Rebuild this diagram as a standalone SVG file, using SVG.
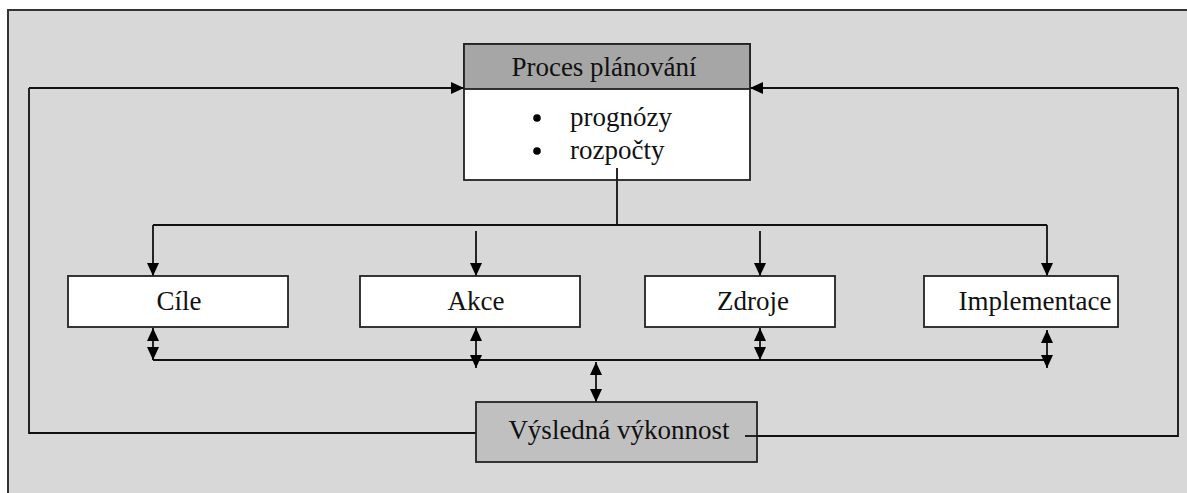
<svg xmlns="http://www.w3.org/2000/svg" width="1187" height="493" viewBox="0 0 1187 493">
  <defs>
    <marker id="ah" viewBox="0 0 13 12" refX="13" refY="6" markerWidth="13" markerHeight="12" markerUnits="userSpaceOnUse" orient="auto-start-reverse">
      <path d="M0,0 L13,6 L0,12 Z" fill="#000"/>
    </marker>
    <style>
      .frame { fill: #d8d8d8; stroke: #333; stroke-width: 2; }
      .box { fill: #fff; stroke: #222; stroke-width: 1.8; }
      .head { fill: #a6a6a6; stroke: #222; stroke-width: 1.8; }
      .result { fill: #c0c0c0; stroke: #222; stroke-width: 1.8; }
      .lbl { font-family: "Liberation Serif", "Times New Roman", serif; font-size: 27px; fill: #111; text-anchor: middle; }
      .item { font-family: "Liberation Serif", "Times New Roman", serif; font-size: 27px; fill: #111; }
      .ln { fill: none; stroke: #111; stroke-width: 1.8; }
      .arr { fill: none; stroke: #111; stroke-width: 1.8; marker-end: url(#ah); }
      .dbl { fill: none; stroke: #111; stroke-width: 1.8; marker-start: url(#ah); marker-end: url(#ah); }
    </style>
  </defs>

  <rect width="1187" height="493" fill="#fff"/>
  <!-- outer panel -->
  <rect class="frame" x="8" y="10" width="1190" height="500"/>

  <!-- connectors -->
  <g id="connectors">
    <!-- feedback loop around the diagram -->
    <path class="ln" d="M476,433 H29 V88"/>
    <path class="arr" d="M29,88 H464"/>
    <path class="ln" d="M745,436 H1178 V88"/>
    <path class="arr" d="M1178,88 H750"/>
    <!-- distribution bus from planning -->
    <path class="ln" d="M617,168 V225"/>
    <path class="ln" d="M153,225 H1047"/>
    <path class="arr" d="M153,225 V276"/>
    <path class="arr" d="M476,231 V276"/>
    <path class="arr" d="M760,231 V276"/>
    <path class="arr" d="M1047,225 V276"/>
    <!-- collection bus into performance -->
    <path class="ln" d="M153,360 H1047"/>
    <path class="dbl" d="M153,328 V360"/>
    <path class="dbl" d="M476,328 V368"/>
    <path class="dbl" d="M760,328 V360"/>
    <path class="dbl" d="M1047,330 V368"/>
    <path class="dbl" d="M596,362 V402"/>
  </g>

  <g id="planning">
    <rect class="box" x="464" y="44" width="286" height="136"/>
    <rect class="head" x="464" y="44" width="286" height="45"/>
    <text class="lbl" x="604" y="76">Proces plánování</text>
    <circle cx="537" cy="118" r="3.8" fill="#000"/>
    <circle cx="537" cy="151" r="3.8" fill="#000"/>
    <text class="item" x="570" y="126">prognózy</text>
    <text class="item" x="570" y="159">rozpočty</text>
  </g>
  <path class="ln" d="M617,168 V180"/>

  <g id="cile">
    <rect class="box" x="68" y="276" width="220" height="51"/>
    <text class="lbl" x="179" y="310">Cíle</text>
  </g>
  <g id="akce">
    <rect class="box" x="360" y="276" width="220" height="51"/>
    <text class="lbl" x="476" y="310">Akce</text>
  </g>
  <g id="zdroje">
    <rect class="box" x="645" y="276" width="190" height="51"/>
    <text class="lbl" x="753" y="310">Zdroje</text>
  </g>
  <g id="implementace">
    <rect class="box" x="924" y="276" width="194" height="51"/>
    <text class="lbl" x="1035" y="310">Implementace</text>
  </g>

  <g id="vysledna">
    <rect class="result" x="476" y="402" width="281" height="60"/>
    <text class="lbl" x="619" y="439">Výsledná výkonnost</text>
  </g>
  <path class="ln" d="M745,436 H757"/>
</svg>
